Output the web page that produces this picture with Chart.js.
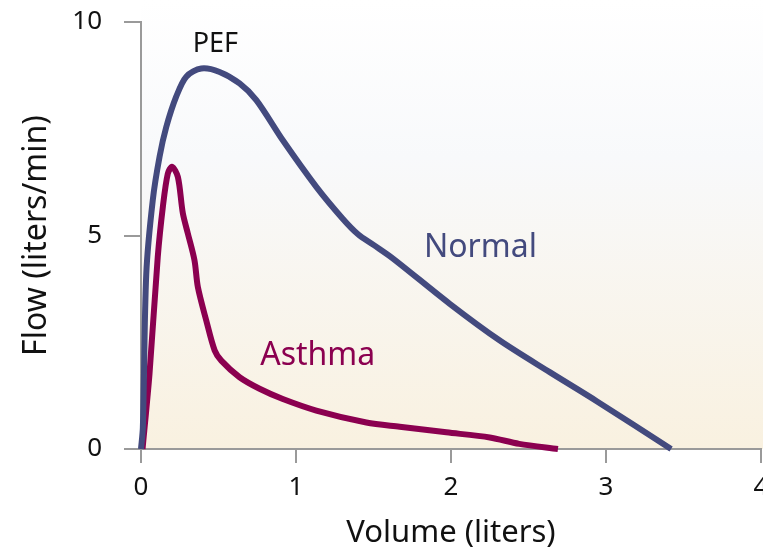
<!DOCTYPE html>
<html>
<head>
<meta charset="utf-8">
<script src="https://cdn.jsdelivr.net/npm/chart.js@4"></script>
<style>
  html, body { margin: 0; padding: 0; background: #fff; overflow: hidden; }
  #wrap { width: 763px; height: 552px; position: relative; }
</style>
</head>
<body>
<div id="wrap"><canvas id="flowChart"></canvas></div>
<script>
// flow-volume loop
const normalVolume = [0, 0.012, 0.034, 0.076, 0.12, 0.163, 0.227, 0.292, 0.389, 0.507, 0.636, 0.744, 0.915, 1.131, 1.30, 1.40, 1.50, 1.626, 1.992, 2.315, 2.637, 2.94, 3.42];
const normalFlow   = [0, 0.5, 4.1, 5.83, 6.85, 7.54, 8.25, 8.72, 8.91, 8.83, 8.56, 8.17, 7.23, 6.14, 5.40, 5.03, 4.78, 4.46, 3.40, 2.54, 1.80, 1.12, 0];

const asthmaVolume = [0.01, 0.055, 0.108, 0.141, 0.173, 0.201, 0.238, 0.27, 0.302, 0.345, 0.367, 0.421, 0.475, 0.518, 0.636, 0.765, 0.915, 1.131, 1.454, 1.669, 1.97, 2.25, 2.44, 2.69];
const asthmaFlow   = [0, 1.77, 4.49, 5.67, 6.45, 6.61, 6.37, 5.52, 5.05, 4.42, 3.79, 3.01, 2.31, 2.07, 1.68, 1.41, 1.17, 0.90, 0.62, 0.52, 0.39, 0.27, 0.12, 0];

const xTicks = [0, 1, 2, 3, 4];
const yTicks = [0, 5, 10];

// text labels: [text, volume, flow, colour, size]
const notes = [
  ['PEF', 0.48, 9.47, '#111111', 27],
  ['Normal', 2.19, 4.72, '#434a7e', 32],
  ['Asthma', 1.14, 2.19, '#8b0050', 32]
];

function toPoints(xs, ys) {
  return xs.map(function(x, i) { return { x: x, y: ys[i] }; });
}

const FONT = "'Noto Sans', 'Open Sans', sans-serif";

const backdrop = {
  id: 'backdrop',
  beforeDraw: function(chart) {
    const a = chart.chartArea;
    const ctx = chart.ctx;
    const g = ctx.createLinearGradient(0, 0, 0, a.bottom);
    g.addColorStop(0, '#ffffff');
    g.addColorStop(0.35, '#f8f9fb');
    g.addColorStop(1, '#f9f1e0');
    ctx.save();
    ctx.fillStyle = g;
    ctx.fillRect(a.left, 0, chart.width - a.left, a.bottom);
    ctx.restore();
  }
};

const noteLabels = {
  id: 'noteLabels',
  afterDatasetsDraw: function(chart) {
    const ctx = chart.ctx;
    const xs = chart.scales.x, ys = chart.scales.y;
    ctx.save();
    ctx.textAlign = 'center';
    ctx.textBaseline = 'middle';
    notes.forEach(function(n) {
      ctx.fillStyle = n[3];
      ctx.font = n[4] + 'px ' + FONT;
      ctx.fillText(n[0], xs.getPixelForValue(n[1]), ys.getPixelForValue(n[2]));
    });
    ctx.restore();
  }
};

const ctx = document.getElementById('flowChart').getContext('2d');
const flowChart = new Chart(ctx, {
  type: 'line',
  data: {
    datasets: [{
      label: 'Normal',
      data: toPoints(normalVolume, normalFlow),
      borderColor: '#434a7e',
      borderWidth: 6,
      pointRadius: 0,
      tension: 0.3,
      borderCapStyle: 'butt',
      borderJoinStyle: 'round',
      clip: false
    }, {
      label: 'Asthma',
      data: toPoints(asthmaVolume, asthmaFlow),
      borderColor: '#8b0050',
      borderWidth: 6,
      pointRadius: 0,
      tension: 0.3,
      borderCapStyle: 'butt',
      borderJoinStyle: 'round',
      clip: false
    }]
  },
  options: {
    responsive: true,
    maintainAspectRatio: false,
    animation: false,
    layout: { padding: { top: 22, right: 2, left: 0, bottom: 0 } },
    plugins: {
      legend: { display: false },
      tooltip: { enabled: false }
    },
    scales: {
      x: {
        type: 'linear',
        min: 0,
        max: 4,
        afterBuildTicks: function(s) { s.ticks = xTicks.map(function(v) { return { value: v }; }); },
        afterFit: function(s) { s.height = 103; s.paddingRight = 0; s.paddingLeft = 0; },
        border: { color: '#9a9a9a', width: 2 },
        grid: { drawOnChartArea: false, tickLength: 14, color: '#9a9a9a', lineWidth: 2 },
        ticks: { color: '#111', padding: 9, font: { family: FONT, size: 26 } },
        title: {
          display: true,
          text: 'Volume (liters)',
          color: '#111',
          padding: { top: 0, bottom: 0 },
          font: { family: FONT, size: 31 }
        }
      },
      y: {
        type: 'linear',
        min: 0,
        max: 10,
        afterBuildTicks: function(s) { s.ticks = yTicks.map(function(v) { return { value: v }; }); },
        afterFit: function(s) { s.width = 141; s.paddingTop = 0; s.paddingBottom = 0; },
        border: { color: '#9a9a9a', width: 2 },
        grid: { drawOnChartArea: false, tickLength: 17, color: '#9a9a9a', lineWidth: 2 },
        ticks: { color: '#111', padding: 22, font: { family: FONT, size: 26 } },
        title: {
          display: true,
          text: 'Flow (liters/min)',
          color: '#111',
          padding: { top: 18, bottom: 0 },
          font: { family: FONT, size: 32 }
        }
      }
    }
  },
  plugins: [backdrop, noteLabels]
});
</script>
</body>
</html>
